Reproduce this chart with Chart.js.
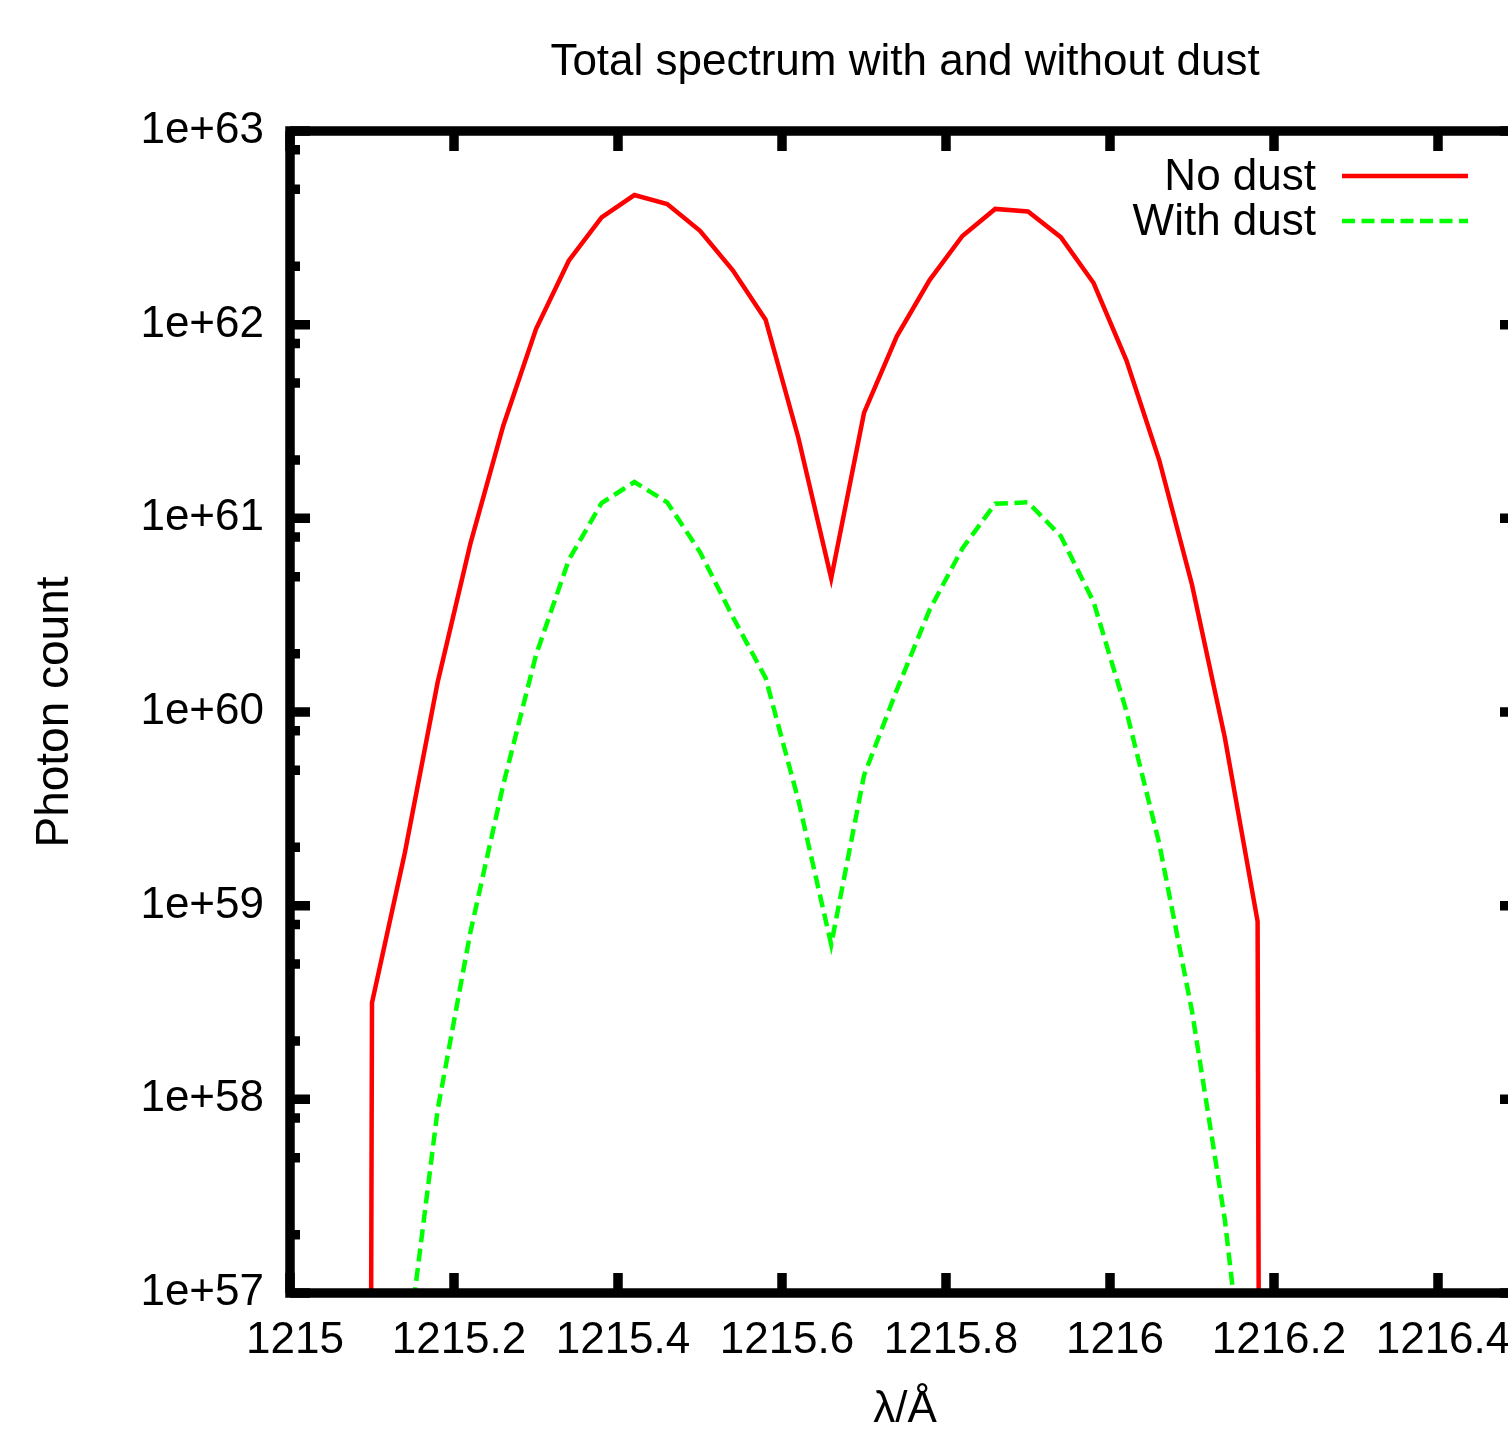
<!DOCTYPE html>
<html>
<head>
<meta charset="utf-8">
<title>Total spectrum with and without dust</title>
<script src="https://cdn.jsdelivr.net/npm/chart.js@4.4.1/dist/chart.umd.min.js"></script>
<style>
  html, body { margin: 0; padding: 0; background: #fff; overflow: hidden; }
  #wrap { position: absolute; left: 0; top: 0; width: 1540px; height: 1440px; }
  canvas { display: block; }
</style>
</head>
<body>
<div id="wrap"><canvas id="c" width="1540" height="1440"></canvas></div>
<script>
// ---- data ----
const wavelengths = [1215.06, 1215.10, 1215.14, 1215.18, 1215.22, 1215.26, 1215.30, 1215.34, 1215.38, 1215.42,
                     1215.46, 1215.50, 1215.54, 1215.58, 1215.62, 1215.66, 1215.70, 1215.74, 1215.78, 1215.82,
                     1215.86, 1215.90, 1215.94, 1215.98, 1216.02, 1216.06, 1216.10, 1216.14, 1216.18, 1216.22];
const noDust = [1, 3.15e58, 1.87e59, 1.42e60, 7.4e60, 3.0e61, 9.5e61, 2.14e62, 3.58e62, 4.67e62,
                4.2e62, 3.05e62, 1.91e62, 1.06e62, 2.6e61, 4.9e60, 3.5e61, 8.7e61, 1.70e62, 2.87e62,
                3.96e62, 3.84e62, 2.83e62, 1.64e62, 6.55e61, 2.0e61, 4.54e60, 7.4e59, 8.3e58, 1];
const withDust = [1, 1e56, 3.9e56, 8.8e57, 7.3e58, 4.2e59, 1.97e60, 6.1e60, 1.2e61, 1.54e61,
                  1.21e61, 6.7e60, 3.1e60, 1.5e60, 3.5e59, 6.3e58, 4.7e59, 1.3e60, 3.37e60, 7.0e60,
                  1.19e61, 1.21e61, 8.1e60, 3.7e60, 1.01e60, 2.1e59, 2.85e58, 2.4e57, 8e55, 1];
const seriesNames = ['No dust', 'With dust'];
const xTickValues = [1215, 1215.2, 1215.4, 1215.6, 1215.8, 1216, 1216.2, 1216.4];
const xTickLabels = ['1215', '1215.2', '1215.4', '1215.6', '1215.8', '1216', '1216.2', '1216.4'];
const yTickValues = [1e57, 1e58, 1e59, 1e60, 1e61, 1e62, 1e63];
const yTickLabels = ['1e+57', '1e+58', '1e+59', '1e+60', '1e+61', '1e+62', '1e+63'];
const yMinorMultipliers = [2, 5, 8];
const chartTitle = 'Total spectrum with and without dust';
const xTitle = 'λ/Å';
const yTitle = 'Photon count';

// ---- styling ----
const FONT = "'Liberation Sans', Arial, Helvetica, sans-serif";
const FS = 44;
Chart.defaults.font.family = FONT;
Chart.defaults.color = '#000';

const colors = ['#ff0000', '#00ff00'];
const dashes = [[], [13, 6.5]];

const frameTicks = {
  id: 'frameTicks',
  afterDatasetsDraw(chart) {
    const ctx = chart.ctx;
    const {left, right, top, bottom} = chart.chartArea;
    const xs = chart.scales.x, ys = chart.scales.y;
    ctx.save();
    ctx.strokeStyle = '#000';
    ctx.lineWidth = 9.5;
    ctx.lineCap = 'butt';
    ctx.beginPath();
    xTickValues.forEach(v => {
      const px = xs.getPixelForValue(v);
      ctx.moveTo(px, bottom); ctx.lineTo(px, bottom - 20);
      ctx.moveTo(px, top); ctx.lineTo(px, top + 20);
    });
    yTickValues.forEach((v, i) => {
      const py = ys.getPixelForValue(v);
      ctx.moveTo(left, py); ctx.lineTo(left + 20, py);
      ctx.moveTo(right, py); ctx.lineTo(right - 20, py);
      if (i < yTickValues.length - 1) {
        yMinorMultipliers.forEach(m => {
          const pm = ys.getPixelForValue(v * m);
          ctx.moveTo(left, pm); ctx.lineTo(left + 10, pm);
          ctx.moveTo(right, pm); ctx.lineTo(right - 10, pm);
        });
      }
    });
    ctx.stroke();
    ctx.strokeRect(left, top, right - left, bottom - top);
    ctx.restore();
  }
};

const keyBox = {
  id: 'keyBox',
  afterDraw(chart) {
    const ctx = chart.ctx;
    const {right, top} = chart.chartArea;
    ctx.save();
    ctx.font = FS + 'px ' + FONT;
    ctx.fillStyle = '#000';
    ctx.textAlign = 'right';
    ctx.textBaseline = 'middle';
    chart.data.datasets.forEach((ds, i) => {
      const y = top + 47 + i * 45;
      ctx.fillText(ds.label, right - 204, y);
      ctx.beginPath();
      ctx.strokeStyle = ds.borderColor;
      ctx.lineWidth = ds.borderWidth;
      ctx.setLineDash(ds.borderDash || []);
      ctx.moveTo(right - 178, y - 2);
      ctx.lineTo(right - 52, y - 2);
      ctx.stroke();
    });
    ctx.restore();
  }
};

const datasets = [noDust, withDust].map((vals, i) => ({
  label: seriesNames[i],
  data: wavelengths.map((w, k) => ({x: w, y: vals[k]})),
  borderColor: colors[i],
  backgroundColor: colors[i],
  borderWidth: 4.5,
  borderDash: dashes[i],
  pointRadius: 0,
  tension: 0,
  fill: false,
  xAxisID: 'x',
  yAxisID: 'y'
}));

new Chart(document.getElementById('c'), {
  type: 'line',
  data: { datasets },
  options: {
    responsive: false,
    animation: false,
    layout: { padding: { left: 0, right: 20, top: 0, bottom: 0 } },
    plugins: {
      legend: { display: false },
      title: { display: false },
      tooltip: { enabled: false }
    },
    scales: {
      x: {
        type: 'linear',
        position: 'bottom',
        min: 1215, max: 1216.5,
        afterFit: s => { s.height = 147; },
        afterBuildTicks: s => { s.ticks = xTickValues.map(v => ({value: v})); },
        ticks: {
          callback: (v, i) => xTickLabels[i],
          font: { size: FS }, color: '#000', padding: 21, labelOffset: 5,
          autoSkip: false, maxRotation: 0, minRotation: 0
        },
        grid: { display: false, drawTicks: false },
        border: { display: false },
        title: { display: true, text: xTitle, font: { size: FS }, color: '#000', padding: { top: 0, bottom: 4 } }
      },
      xTop: {
        type: 'linear',
        position: 'top',
        min: 1215, max: 1216.5,
        afterFit: s => { s.height = 131; },
        ticks: { display: false },
        grid: { display: false, drawTicks: false },
        border: { display: false },
        title: { display: true, text: chartTitle, font: { size: FS }, color: '#000', padding: { top: 36, bottom: 0 } }
      },
      y: {
        type: 'logarithmic',
        position: 'left',
        min: 1e57, max: 1e63,
        afterFit: s => { s.width = 290; },
        afterBuildTicks: s => { s.ticks = yTickValues.map(v => ({value: v})); },
        ticks: {
          callback: (v, i) => yTickLabels[i],
          font: { size: FS }, color: '#000', padding: 26, autoSkip: false
        },
        grid: { display: false, drawTicks: false },
        border: { display: false },
        title: { display: true, text: yTitle, font: { size: 46 }, color: '#000', padding: { top: 28, bottom: 0 } }
      }
    }
  },
  plugins: [frameTicks, keyBox]
});
</script>
</body>
</html>
